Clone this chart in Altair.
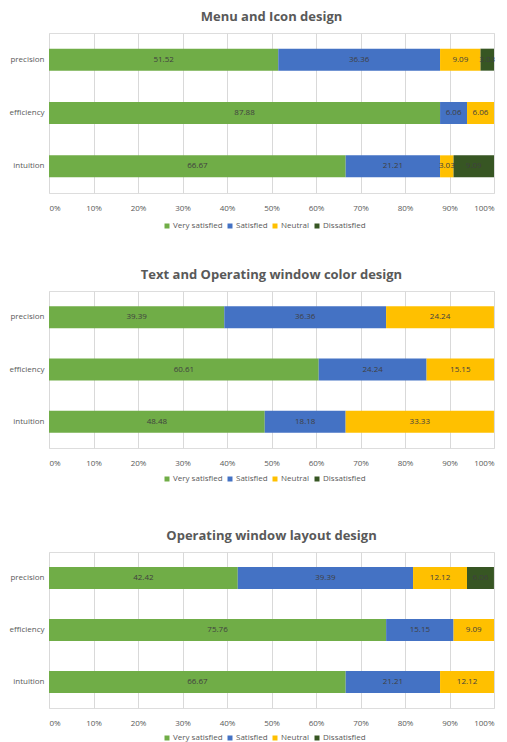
import altair as alt
import pandas as pd

items = ["precision", "efficiency", "intuition"]
levels = ["Very satisfied", "Satisfied", "Neutral", "Dissatisfied"]
colors = ["#70AD47", "#4472C4", "#FFC000", "#375623"]

titles = ["Menu and Icon design", "Text and Operating window color design", "Operating window layout design"]

# values per panel: item -> [Very satisfied, Satisfied, Neutral, Dissatisfied]
menu_precision = [51.52, 36.36, 9.09, 3.03]
menu_efficiency = [87.88, 6.06, 6.06, 0]
menu_intuition = [66.67, 21.21, 3.03, 9.09]

color_precision = [39.39, 36.36, 24.24, 0]
color_efficiency = [60.61, 24.24, 15.15, 0]
color_intuition = [48.48, 18.18, 33.33, 0]

layout_precision = [42.42, 39.39, 12.12, 6.06]
layout_efficiency = [75.76, 15.15, 9.09, 0]
layout_intuition = [66.67, 21.21, 12.12, 0]

panels = [
    [menu_precision, menu_efficiency, menu_intuition],
    [color_precision, color_efficiency, color_intuition],
    [layout_precision, layout_efficiency, layout_intuition],
]

FONT = "Open Sans"


def make_panel(title, vals, height, legend_y):
    rows = []
    for item, v in zip(items, vals):
        for k, (lev, val) in enumerate(zip(levels, v)):
            if val > 0:
                rows.append({"item": item, "level": lev, "order": k, "value": val})
    df = pd.DataFrame(rows)
    base = alt.Chart(df).transform_stack(
        stack="value", groupby=["item"], as_=["x0", "x1"],
        sort=[alt.SortField("order", order="ascending")]
    ).transform_calculate(mid="(datum.x0 + datum.x1) / 2")

    y = alt.Y("item:N", sort=items, title=None,
              axis=alt.Axis(ticks=False, domain=False, labelFontSize=8,
                            labelColor="#595959", labelPadding=5, labelFont=FONT))
    bars = base.mark_bar(size=22).encode(
        x=alt.X("x0:Q", scale=alt.Scale(domain=[0, 100]), title=None,
                axis=alt.Axis(values=list(range(0, 101, 10)), labelExpr="datum.value + '%'",
                              ticks=False, domain=False, grid=True, gridColor="#D9D9D9",
                              labelFontSize=8, labelColor="#595959", labelPadding=11,
                              labelFont=FONT)),
        x2="x1:Q",
        y=y,
        color=alt.Color("level:N", scale=alt.Scale(domain=levels, range=colors),
                        legend=alt.Legend(title=None, orient="none", direction="horizontal",
                                          legendX=114, legendY=legend_y,
                                          symbolType="square", symbolSize=25,
                                          labelFontSize=8, labelColor="#595959",
                                          labelFont=FONT, columnPadding=3, labelOffset=2,
                                          symbolStrokeWidth=0)),
    )
    text = base.mark_text(fontSize=8, color="#404040", font=FONT).encode(
        x="mid:Q",
        y=alt.Y("item:N", sort=items),
        text=alt.Text("value:Q", format=".2f"),
    )
    return alt.layer(bars, text).properties(
        width=445, height=height,
        title=alt.TitleParams(title, fontSize=13, fontWeight="bold", color="#595959",
                              font=FONT, offset=9, anchor="middle"),
    )


p1 = make_panel(titles[0], panels[0], 160, 189)
p2 = make_panel(titles[1], panels[1], 157, 184)
p3 = make_panel(titles[2], panels[2], 156, 182)
top = alt.vconcat(p1, p2, spacing=37).resolve_legend(color="independent").resolve_scale(color="independent")
chart = alt.vconcat(top, p3, spacing=45).resolve_legend(
    color="independent"
).resolve_scale(color="independent").configure_view(stroke=None).configure(
    background="white", padding={"left": 0, "right": 0, "top": 2, "bottom": 0}
)

chart.save("out.html", embed_options={"renderer": "svg", "actions": False})
